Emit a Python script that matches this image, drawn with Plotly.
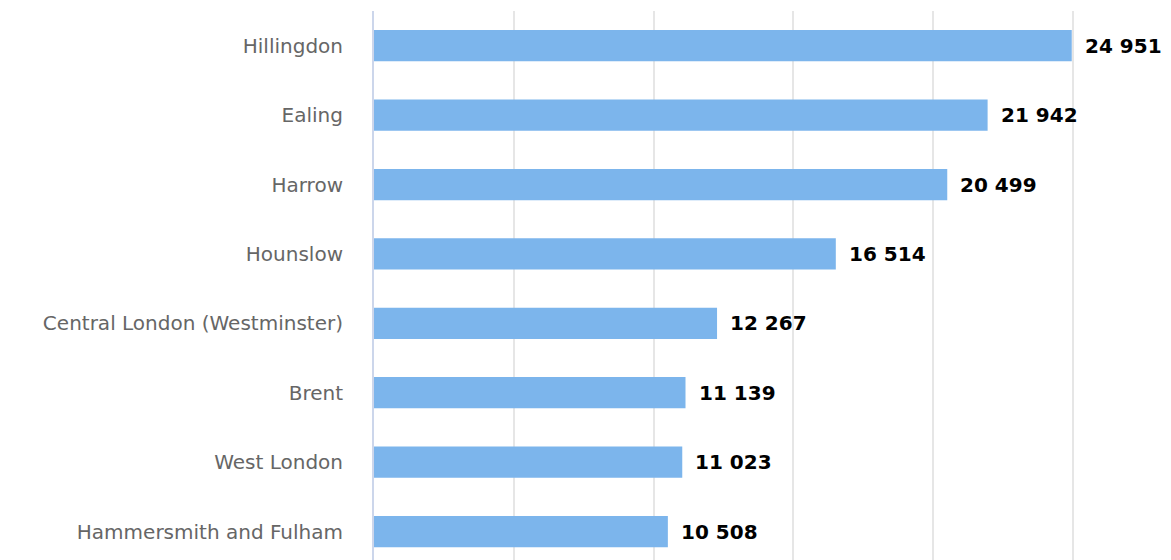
import plotly.graph_objects as go

categories = ["Hillingdon", "Ealing", "Harrow", "Hounslow",
              "Central London (Westminster)", "Brent", "West London",
              "Hammersmith and Fulham"]
values = [24951, 21942, 20499, 16514, 12267, 11139, 11023, 10508]
labels = [f"{v:,}".replace(",", " ") for v in values]

fig = go.Figure()
fig.add_trace(go.Bar(
    x=values, y=categories, orientation="h",
    marker=dict(color="#7cb5ec", line=dict(width=0)),
    width=0.45, hoverinfo="x+y",
))
for c, v, t in zip(categories, values, labels):
    fig.add_annotation(x=v, y=c, text=f"<b>{t}</b>", showarrow=False,
                       xanchor="left", yanchor="middle", xshift=11,
                       font=dict(family="DejaVu Sans", size=20, color="#000000"))

fig.update_layout(
    width=1171, height=560,
    margin=dict(l=374, r=0, t=11, b=0, pad=0),
    plot_bgcolor="#ffffff", paper_bgcolor="#ffffff",
    showlegend=False,
    xaxis=dict(range=[0, 28500], dtick=5000, tick0=0, showticklabels=False,
               showgrid=True, gridcolor="#e6e6e6", gridwidth=2,
               zeroline=False, showline=False, fixedrange=True),
    yaxis=dict(categoryorder="array", categoryarray=categories,
               range=[7.41, -0.5], showline=True, linecolor="#ccd6eb",
               linewidth=2, ticks="", ticklen=0,
               tickfont=dict(family="DejaVu Sans", size=20, color="#666666"),
               showgrid=False, zeroline=False, ticklabelstandoff=25),
)
fig.write_html("out.html")
